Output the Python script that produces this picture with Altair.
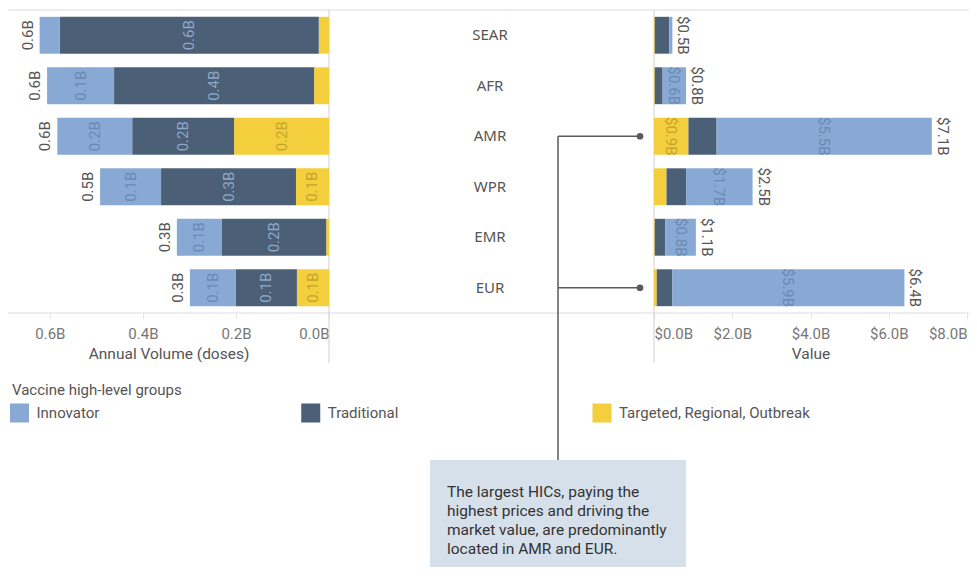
import altair as alt
import pandas as pd

regions = ["SEAR", "AFR", "AMR", "WPR", "EMR", "EUR"]
groups = ["Innovator", "Traditional", "Targeted, Regional, Outbreak"]
colors = ["#87a9d3", "#4b5f77", "#f4cf3d"]
label_colors = ["#6b8ab3", "#8ea8c9", "#c5a52e"]

# Annual volume (billions of doses)
vol_innovator = [0.043, 0.144, 0.161, 0.131, 0.097, 0.099]
vol_traditional = [0.557, 0.430, 0.219, 0.290, 0.224, 0.131]
vol_targeted = [0.022, 0.032, 0.204, 0.071, 0.006, 0.069]

# Market value (billions of USD)
val_innovator = [0.08, 0.60, 5.50, 1.70, 0.78, 5.93]
val_traditional = [0.37, 0.20, 0.72, 0.50, 0.27, 0.40]
val_targeted = [0.02, 0.02, 0.88, 0.32, 0.02, 0.07]

note_lines = ["The largest HICs, paying the",
              "highest prices and driving the",
              "market value, are predominantly",
              "located in AMR and EUR."]
callout_regions = ["AMR", "EUR"]


def stack(inn, tra, tar):
    rows, tots = [], []
    for i, r in enumerate(regions):
        s = 0.0
        for g, v in [(groups[2], tar[i]), (groups[1], tra[i]), (groups[0], inn[i])]:
            rows.append(dict(region=r, group=g, value=v, start=s, end=s + v, mid=s + v / 2))
            s += v
        tots.append(dict(region=r, total=s))
    return pd.DataFrame(rows), pd.DataFrame(tots)


vol_df, vol_tot = stack(vol_innovator, vol_traditional, vol_targeted)
val_df, val_tot = stack(val_innovator, val_traditional, val_targeted)

NUMF = "Roboto"
W, H = 961, 303

yscale = alt.Scale(domain=regions, paddingInner=0.27, paddingOuter=0.135)
yband = alt.Y("region:N", sort=regions, scale=yscale, axis=None)
ymid = alt.Y("region:N", sort=regions, scale=yscale, bandPosition=0.5, axis=None)
color = alt.Color("group:N", scale=alt.Scale(domain=groups, range=colors), legend=None)
fill = alt.Fill("group:N", scale=alt.Scale(domain=groups, range=label_colors), legend=None)


def axis(values, expr, title):
    return alt.Axis(values=values, labelExpr=expr, title=title, orient="bottom",
                    domain=False, grid=False, ticks=True, tickSize=6, tickColor="#e6e6e6",
                    labelFlush=True, labelPadding=7, labelFont=NUMF, labelFontSize=15,
                    labelColor="#777777", titleFont=NUMF, titleFontSize=15.5,
                    titleColor="#555555", titleFontWeight="normal", titlePadding=5)


# ---------- left panel (volume) ----------
vscale = alt.Scale(domain=[0, 0.69], range=[321, 0], nice=False, zero=False)
vaxis = axis([0, 0.2, 0.4, 0.6], "format(datum.value, '.1f') + 'B'", "Annual Volume (doses)")

left_zero = alt.Chart(pd.DataFrame({"z": [0]})).mark_rule(color="#cfcfcf").encode(
    x=alt.X("z:Q", scale=vscale, axis=vaxis), y=alt.value(0), y2=alt.value(353))
left_bars = alt.Chart(vol_df).mark_bar().encode(
    x=alt.X("start:Q", scale=vscale, axis=vaxis), x2="end:Q", y=yband, color=color)
left_lbl = alt.Chart(vol_df).transform_filter("datum.value >= 0.05").transform_calculate(
    lbl="format(datum.value, '.1f') + 'B'").mark_text(
    angle=270, font=NUMF, fontSize=15, baseline="middle", align="center").encode(
    x=alt.X("mid:Q", scale=vscale, axis=vaxis), y=ymid, text="lbl:N", fill=fill)
left_tot = alt.Chart(vol_tot).transform_calculate(
    lbl="format(datum.total, '.1f') + 'B'").mark_text(
    angle=270, font=NUMF, fontSize=15, baseline="bottom", align="center", dy=-4, color="#555555").encode(
    x=alt.X("total:Q", scale=vscale, axis=vaxis), y=ymid, text="lbl:N")
left = alt.layer(left_zero, left_bars, left_lbl, left_tot)

# ---------- right panel (value) ----------
rscale = alt.Scale(domain=[0, 8], range=[646, 959], nice=False)
raxis = axis([0, 2, 4, 6, 8], "'$' + format(datum.value, '.1f') + 'B'", "Value")

right_zero = alt.Chart(pd.DataFrame({"z": [0]})).mark_rule(color="#cfcfcf").encode(
    x=alt.X("z:Q", scale=rscale, axis=raxis), y=alt.value(0), y2=alt.value(353))
right_bars = alt.Chart(val_df).mark_bar().encode(
    x=alt.X("start:Q", scale=rscale, axis=raxis), x2="end:Q", y=yband, color=color)
right_lbl = alt.Chart(val_df).transform_filter(
    "datum.value >= 0.55 && datum.group != 'Traditional'").transform_calculate(
    lbl="'$' + format(datum.value, '.1f') + 'B'").mark_text(
    angle=90, font=NUMF, fontSize=15, baseline="middle", align="center").encode(
    x=alt.X("mid:Q", scale=rscale, axis=raxis), y=ymid, text="lbl:N", fill=fill)
right_tot = alt.Chart(val_tot).transform_calculate(
    lbl="'$' + format(datum.total, '.1f') + 'B'").mark_text(
    angle=90, font=NUMF, fontSize=15, baseline="bottom", align="center", dy=-3, color="#555555").encode(
    x=alt.X("total:Q", scale=rscale, axis=raxis), y=ymid, text="lbl:N")
right = alt.layer(right_zero, right_bars, right_lbl, right_tot)

# ---------- frame lines ----------
one = pd.DataFrame({"k": [0]})
top_line = alt.Chart(one).mark_rule(color="#dddddd").encode(
    x=alt.value(0), x2=alt.value(W), y=alt.value(0))
bottom_line = alt.Chart(one).mark_rule(color="#dddddd").encode(
    x=alt.value(0), x2=alt.value(W), y=alt.value(H))

# ---------- region names ----------
names = alt.Chart(pd.DataFrame({"region": regions})).mark_text(
    font="Noto Sans", fontSize=15, color="#555555", align="center", baseline="middle").encode(
    x=alt.value(482), y=ymid, text="region:N")

# ---------- callout ----------
cdf = pd.DataFrame({"region": callout_regions})
c_h = alt.Chart(cdf).mark_rule(color="#5a5a5a", strokeWidth=1.5).encode(
    x=alt.value(550), x2=alt.value(632), y=ymid)
c_v = alt.Chart(cdf.iloc[:1]).mark_rule(color="#5a5a5a", strokeWidth=1.5).encode(
    x=alt.value(550), y=ymid, y2=alt.value(450))
c_dot = alt.Chart(cdf).mark_circle(color="#5a5a5a", size=45, opacity=1).encode(
    x=alt.value(632), y=ymid)

box = alt.Chart(one).mark_rect(color="#d6e0eb").encode(
    x=alt.value(422), x2=alt.value(678), y=alt.value(450), y2=alt.value(600))
note = alt.Chart(one).mark_text(
    text=note_lines, lineHeight=19, font="Roboto", fontSize=15.5, color="#333333",
    align="left", baseline="top").encode(x=alt.value(439), y=alt.value(475))

# ---------- legend ----------
gdf = pd.DataFrame({"group": groups})
lx = alt.X("group:N", scale=alt.Scale(type="point", domain=groups, range=[11.5, 594], padding=0), axis=None)
leg_sw = alt.Chart(gdf).mark_square(size=361, opacity=1).encode(x=lx, y=alt.value(403), color=color)
leg_tx = alt.Chart(gdf).mark_text(align="left", baseline="middle", dx=17, font=NUMF, fontSize=15,
                                  color="#555555").encode(x=lx, y=alt.value(403), text="group:N")
leg_title = alt.Chart(pd.DataFrame({"t": ["Vaccine high-level groups"]})).mark_text(
    align="left", baseline="middle", font=NUMF, fontSize=15, color="#555555").encode(
    x=alt.value(4), y=alt.value(380), text="t:N")
legend = alt.layer(leg_sw, leg_tx)

chart = alt.layer(
    box, note, top_line, bottom_line, left, right, names, c_h, c_v, c_dot, legend, leg_title
).resolve_scale(x="independent").properties(
    width=W, height=H,
    autosize=alt.AutoSizeParams(type="none"),
    padding={"left": 0, "top": 2, "right": 0, "bottom": 254},
).configure_view(stroke=None)

chart.save("out.html", embed_options={"renderer": "svg", "actions": False})
